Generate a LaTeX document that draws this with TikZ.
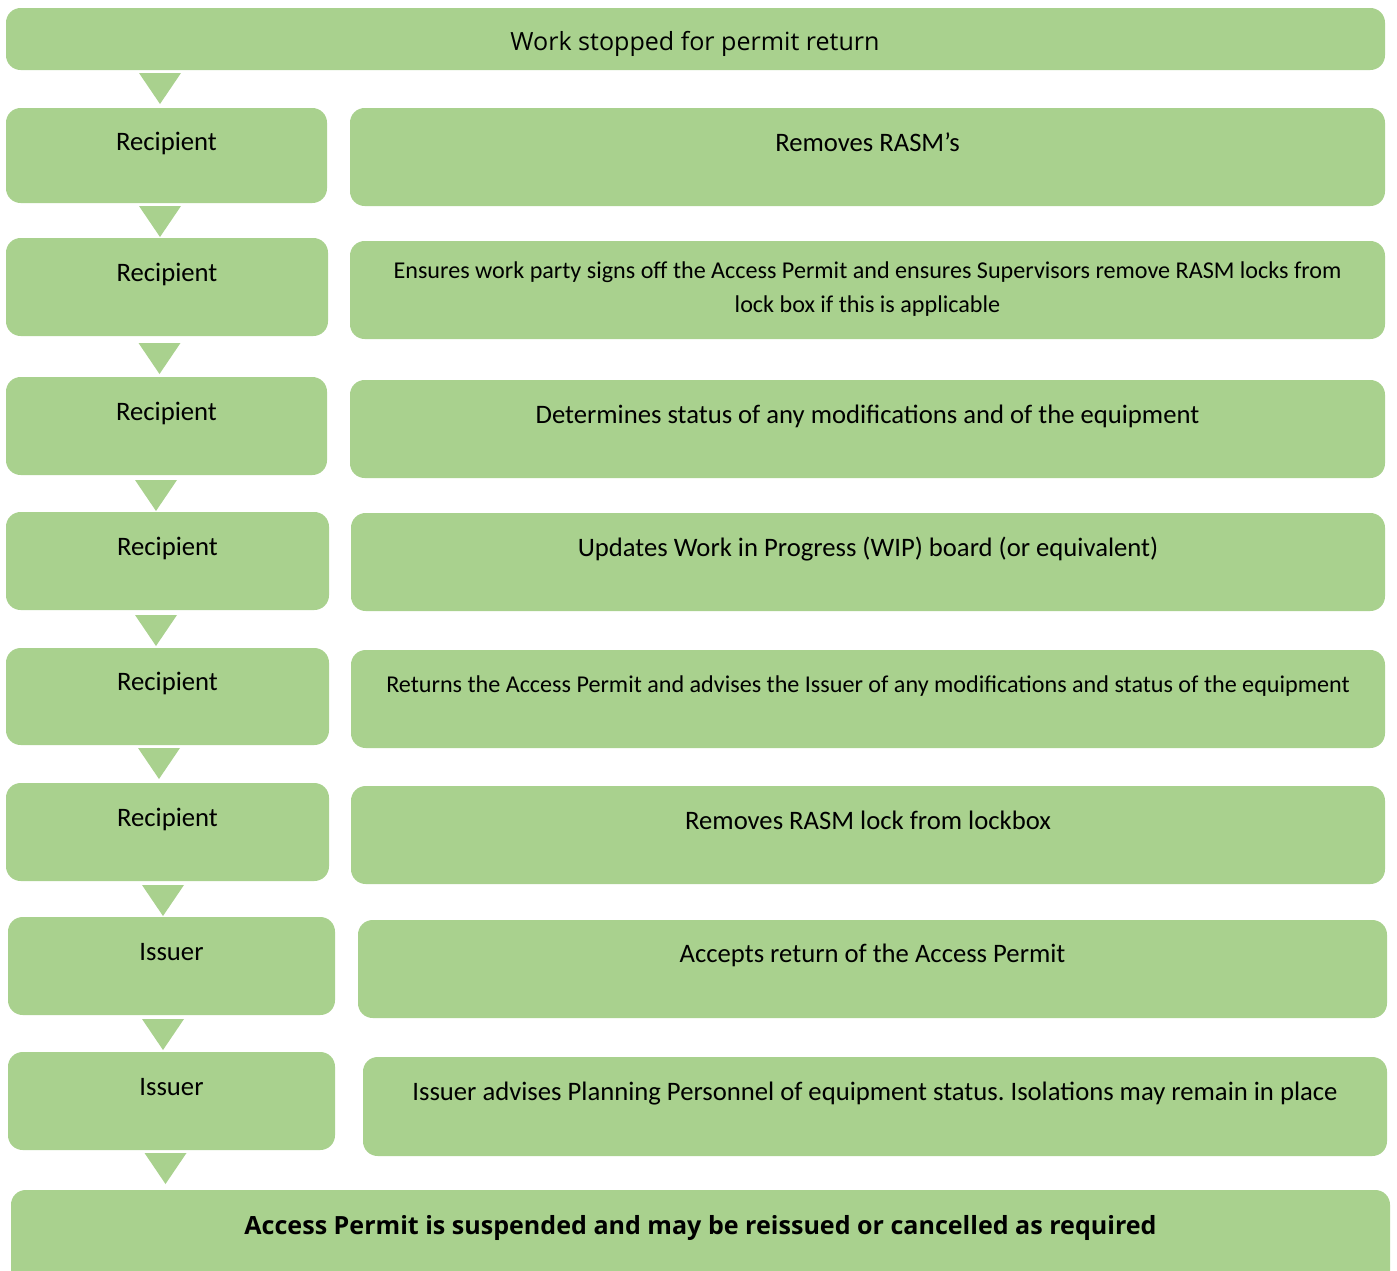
\documentclass[tikz,border=0pt]{standalone}
\usepackage{fontspec}
\setmainfont{Carlito}
\newfontfamily\headfont{Open Sans}
\definecolor{panelgreen}{HTML}{A9D18E}
\frenchspacing

\begin{document}
\begin{tikzpicture}[x = 0.75pt, y = -0.75pt]
\tikzstyle{PanelStyle}=[fill = panelgreen,
                        rounded corners = 11pt]
\tikzstyle{LabelStyle}=[anchor = base, inner sep = 0pt,
                        font = \fontsize{20}{24}\selectfont]
\tikzstyle{SmallStyle}=[inner sep = 0pt, align = center,
                        font = \fontsize{18.1}{25.5}\selectfont]
\useasboundingbox (0,0) rectangle (1397,1271);

\fill[PanelStyle] (6,8) rectangle (1385,70);
\node[LabelStyle, font = \headfont\fontsize{18.8}{22}\selectfont] (start) at (695,50) {Work stopped for permit return};

\foreach \xa/\ya/\xb/\yb/\bl/\who [count = \i] in
  {6/108/327/203/150/Recipient, 6/238/328/336/281/Recipient,
   6/377/327/475/420/Recipient, 6/512/329/610/555/Recipient,
   6/648/329/745/690/Recipient, 6/783/329/881/826/Recipient,
   8/917/335/1015/960/Issuer, 8/1052/335/1150/1095/Issuer}
  {\fill[PanelStyle] (\xa,\ya) rectangle (\xb,\yb);
   \node[LabelStyle] (role\i) at ({(\xa+\xb)/2},\bl) {\who};}

\fill[PanelStyle] (350,108) rectangle (1385,206);
\node[LabelStyle] (task1) at (867.5,151) {Removes RASM’s};
\fill[PanelStyle] (350,241) rectangle (1385,339);
\node[SmallStyle] (task2) at (867.5,289) {Ensures work party signs off the Access Permit and ensures Supervisors remove RASM locks from\\ lock box if this is applicable};
\fill[PanelStyle] (350,380) rectangle (1385,478);
\node[LabelStyle] (task3) at (867.5,423) {Determines status of any modifications and of the equipment};
\fill[PanelStyle] (351,513) rectangle (1385,611);
\node[LabelStyle] (task4) at (868,556) {Updates Work in Progress (WIP) board (or equivalent)};
\fill[PanelStyle] (351,650) rectangle (1385,748);
\node[SmallStyle, anchor = base] (task5) at (868,692) {Returns the Access Permit and advises the Issuer of any modifications and status of the equipment};
\fill[PanelStyle] (351,786) rectangle (1385,884);
\node[LabelStyle] (task6) at (868,829) {Removes RASM lock from lockbox};
\fill[PanelStyle] (358,920) rectangle (1387,1018);
\node[LabelStyle] (task7) at (872.5,962) {Accepts return of the Access Permit};
\fill[PanelStyle] (363,1057) rectangle (1387,1156);
\node[LabelStyle] (task8) at (875,1100) {Issuer advises Planning Personnel of equipment status. Isolations may remain in place};

\fill[PanelStyle] (11,1190) rectangle (1390,1300);
\node[LabelStyle, font = \headfont\fontsize{18.8}{22}\selectfont\bfseries] (finish) at (700.5,1234) {Access Permit is suspended and may be reissued or cancelled as required};

\foreach \cx/\ty in {160/73, 160/206, 159.5/343, 156/480, 156/615,
                     159/748, 163/885, 163/1019, 165.5/1153}
  \fill[panelgreen] (\cx-21,\ty) -- (\cx+21,\ty) -- (\cx,\ty+31) -- cycle;
\end{tikzpicture}
\end{document}
